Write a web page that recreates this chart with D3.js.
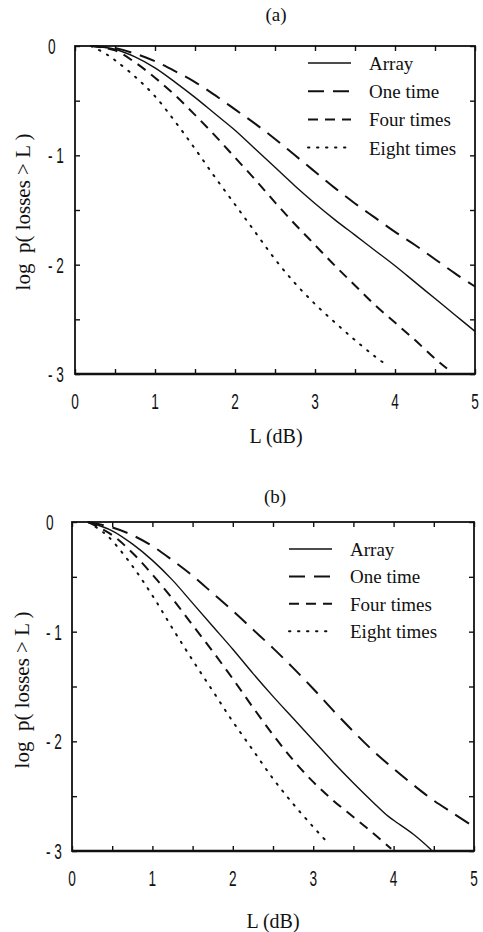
<!DOCTYPE html>
<html>
<head>
<meta charset="utf-8">
<script src="https://cdn.jsdelivr.net/npm/d3@7/dist/d3.min.js"></script>
<style>
  html, body { margin: 0; padding: 0; background: #fff; }
  svg { display: block; }
  .serif { font-family: "Liberation Serif", "Times New Roman", serif; fill: #111; }
  .tick-lbl { font-family: "Liberation Sans", Arial, sans-serif; fill: #111; }
</style>
</head>
<body>
<svg id="chart" width="483" height="932"></svg>
<script>
// ---------- data ----------
const seriesNames = ["Array", "One time", "Four times", "Eight times"];
const xTickValues = [0, 1, 2, 3, 4, 5];
const xTickLabels = ["0", "1", "2", "3", "4", "5"];
const yTickValues = [0, -1, -2, -3];
const yTickLabels = ["0", "- 1", "- 2", "- 3"];

// panel (a)
const aL = [0.2, 0.5, 0.75, 1.0, 1.25, 1.5, 1.75, 2.0, 2.25, 2.5, 2.75, 3.0, 3.25, 3.5, 3.75, 4.0, 4.25, 4.5, 4.75, 5.0];
const aArray    = [0, -0.03, -0.10, -0.20, -0.33, -0.47, -0.62, -0.77, -0.94, -1.11, -1.28, -1.44, -1.59, -1.73, -1.87, -2.01, -2.16, -2.31, -2.46, -2.61];
const aOneTime  = [0, -0.02, -0.07, -0.14, -0.23, -0.33, -0.45, -0.58, -0.71, -0.85, -1.00, -1.15, -1.30, -1.44, -1.57, -1.70, -1.82, -1.95, -2.08, -2.20];
const aFourL    = [0.2, 0.5, 0.75, 1.0, 1.25, 1.5, 1.75, 2.0, 2.25, 2.5, 2.75, 3.0, 3.25, 3.5, 3.75, 4.0, 4.25, 4.5, 4.65];
const aFour     = [0, -0.04, -0.15, -0.29, -0.45, -0.63, -0.82, -1.02, -1.22, -1.43, -1.63, -1.82, -2.01, -2.19, -2.37, -2.53, -2.69, -2.86, -2.95];
const aEightL   = [0.2, 0.375, 0.5, 0.75, 1.0, 1.25, 1.5, 1.75, 2.0, 2.25, 2.5, 2.75, 3.0, 3.25, 3.5, 3.75, 3.92];
const aEight    = [0, -0.067, -0.13, -0.28, -0.46, -0.69, -0.94, -1.20, -1.45, -1.70, -1.95, -2.17, -2.36, -2.53, -2.69, -2.84, -2.93];

// panel (b)
const bArrayL   = [0.2, 0.5, 0.75, 1.0, 1.25, 1.5, 1.75, 2.0, 2.25, 2.5, 2.75, 3.0, 3.25, 3.5, 3.75, 3.91, 4.0, 4.25, 4.47];
const bArray    = [0, -0.08, -0.20, -0.35, -0.53, -0.74, -0.95, -1.16, -1.38, -1.59, -1.79, -1.99, -2.19, -2.38, -2.56, -2.67, -2.72, -2.85, -2.99];
const bOneL     = [0.2, 0.5, 0.75, 1.0, 1.25, 1.5, 1.75, 2.0, 2.25, 2.5, 2.75, 3.0, 3.25, 3.5, 3.75, 4.0, 4.25, 4.5, 4.75, 5.0];
const bOneTime  = [0, -0.05, -0.12, -0.22, -0.35, -0.49, -0.65, -0.81, -0.98, -1.15, -1.33, -1.52, -1.72, -1.91, -2.09, -2.25, -2.40, -2.54, -2.66, -2.78];
const bFourL    = [0.2, 0.5, 0.75, 1.0, 1.25, 1.5, 1.75, 2.0, 2.25, 2.5, 2.75, 3.0, 3.25, 3.5, 3.75, 3.97];
const bFour     = [0, -0.12, -0.28, -0.48, -0.70, -0.94, -1.18, -1.43, -1.69, -1.94, -2.17, -2.37, -2.54, -2.69, -2.84, -2.98];
const bEightL   = [0.2, 0.4, 0.5, 0.75, 1.0, 1.25, 1.5, 1.75, 2.0, 2.25, 2.5, 2.75, 3.0, 3.2];
const bEight    = [0, -0.10, -0.17, -0.40, -0.67, -0.97, -1.26, -1.54, -1.82, -2.08, -2.34, -2.57, -2.78, -2.94];

// ---------- styles per series ----------
const styles = [
  { dash: null,      width: 1.4, cap: "butt"  },
  { dash: "16 9",    width: 2.0, cap: "butt"  },
  { dash: "10 7",    width: 2.0, cap: "butt"  },
  { dash: "1.4 7.6", width: 2.0, cap: "round" }
];

const panels = [
  {
    title: "(a)", left: 75, top: 46, w: 400, h: 328,
    titleX: 276, titleY: 21, xlabY: 443, xlabX: 276,
    ylabX: 30, ylabY: 212, yTickX: -27,
    legX: 308, legY: 63, legStep: 28.2, legTextX: 369,
    series: [
      { xs: aL, ys: aArray }, { xs: aL, ys: aOneTime },
      { xs: aFourL, ys: aFour }, { xs: aEightL, ys: aEight }
    ]
  },
  {
    title: "(b)", left: 72, top: 522, w: 402, h: 329,
    titleX: 275, titleY: 503, xlabY: 928, xlabX: 273,
    ylabX: 29, ylabY: 690, yTickX: -26,
    legX: 289, legY: 549, legStep: 27.4, legTextX: 350,
    series: [
      { xs: bArrayL, ys: bArray }, { xs: bOneL, ys: bOneTime },
      { xs: bFourL, ys: bFour }, { xs: bEightL, ys: bEight }
    ]
  }
];

const svg = d3.select("#chart");

panels.forEach(p => {
  const x = d3.scaleLinear().domain([0, 5]).range([0, p.w]);
  const y = d3.scaleLinear().domain([-3, 0]).range([p.h, 0]);
  const g = svg.append("g").attr("transform", `translate(${p.left},${p.top})`);

  const minorX = d3.range(0, 5.01, 0.5);
  const minorY = d3.range(-3, 0.01, 0.5);

  // inward ticks on all four sides
  const axB = g.append("g").attr("transform", `translate(0,${p.h})`)
    .call(d3.axisBottom(x).tickValues(minorX).tickSize(-5).tickFormat(""));
  const axT = g.append("g")
    .call(d3.axisTop(x).tickValues(minorX).tickSize(-5).tickFormat(""));
  const axL = g.append("g")
    .call(d3.axisLeft(y).tickValues(minorY).tickSize(-5).tickFormat(""));
  const axR = g.append("g").attr("transform", `translate(${p.w},0)`)
    .call(d3.axisRight(y).tickValues(minorY).tickSize(-5).tickFormat(""));
  [axB, axT, axL, axR].forEach(a => {
    a.select(".domain").remove();
    a.selectAll(".tick line").attr("stroke", "#111").attr("stroke-width", 1.4);
  });

  // frame
  g.append("rect").attr("x", x(0)).attr("y", y(0))
    .attr("width", x(5) - x(0)).attr("height", y(-3) - y(0))
    .attr("fill", "none").attr("stroke", "#111").attr("stroke-width", 1.8);
  g.append("line").attr("x1", x(0)).attr("x2", x(5)).attr("y1", y(-3)).attr("y2", y(-3))
    .attr("stroke", "#111").attr("stroke-width", 2.4);

  // tick labels (condensed sans)
  xTickValues.forEach((v, i) => {
    g.append("text").attr("class", "tick-lbl")
      .attr("transform", `translate(${x(v)},${p.h + 35}) scale(0.62,1)`)
      .attr("text-anchor", "middle").attr("font-size", 22)
      .text(xTickLabels[i]);
  });
  yTickValues.forEach((v, i) => {
    g.append("text").attr("class", "tick-lbl")
      .attr("transform", `translate(${p.yTickX},${y(v) + 8}) scale(0.62,1)`)
      .attr("text-anchor", "start").attr("font-size", 22)
      .style("white-space", "pre")
      .text(yTickLabels[i]);
  });

  // curves
  const line = d3.line().x(d => x(d[0])).y(d => y(d[1])).curve(d3.curveCatmullRom.alpha(0.5));
  p.series.forEach((s, i) => {
    const pts = s.xs.map((v, k) => [v, s.ys[k]]);
    const st = styles[i];
    g.append("path").datum(pts).attr("d", line)
      .attr("fill", "none").attr("stroke", "#111")
      .attr("stroke-width", st.width).attr("stroke-linecap", st.cap)
      .attr("stroke-dasharray", st.dash);
  });

  // legend
  seriesNames.forEach((name, i) => {
    const ly = p.legY + i * p.legStep;
    const st = styles[i];
    svg.append("line")
      .attr("x1", p.legX).attr("x2", p.legX + 43).attr("y1", ly).attr("y2", ly)
      .attr("stroke", "#111").attr("stroke-width", st.width)
      .attr("stroke-linecap", st.cap).attr("stroke-dasharray", st.dash);
    svg.append("text").attr("class", "serif")
      .attr("x", p.legTextX).attr("y", ly + 7).attr("font-size", 19)
      .text(name);
  });

  // titles and axis labels
  svg.append("text").attr("class", "serif")
    .attr("x", p.titleX).attr("y", p.titleY).attr("text-anchor", "middle")
    .attr("font-size", 19).text(p.title);
  svg.append("text").attr("class", "serif")
    .attr("x", p.xlabX).attr("y", p.xlabY).attr("text-anchor", "middle")
    .attr("font-size", 20).text("L (dB)");
  svg.append("text").attr("class", "serif")
    .attr("transform", `translate(${p.ylabX},${p.ylabY}) rotate(-90)`)
    .attr("text-anchor", "middle").attr("font-size", 21)
    .style("white-space", "pre")
    .text("log  p( losses > L )");
});
</script>
</body>
</html>
